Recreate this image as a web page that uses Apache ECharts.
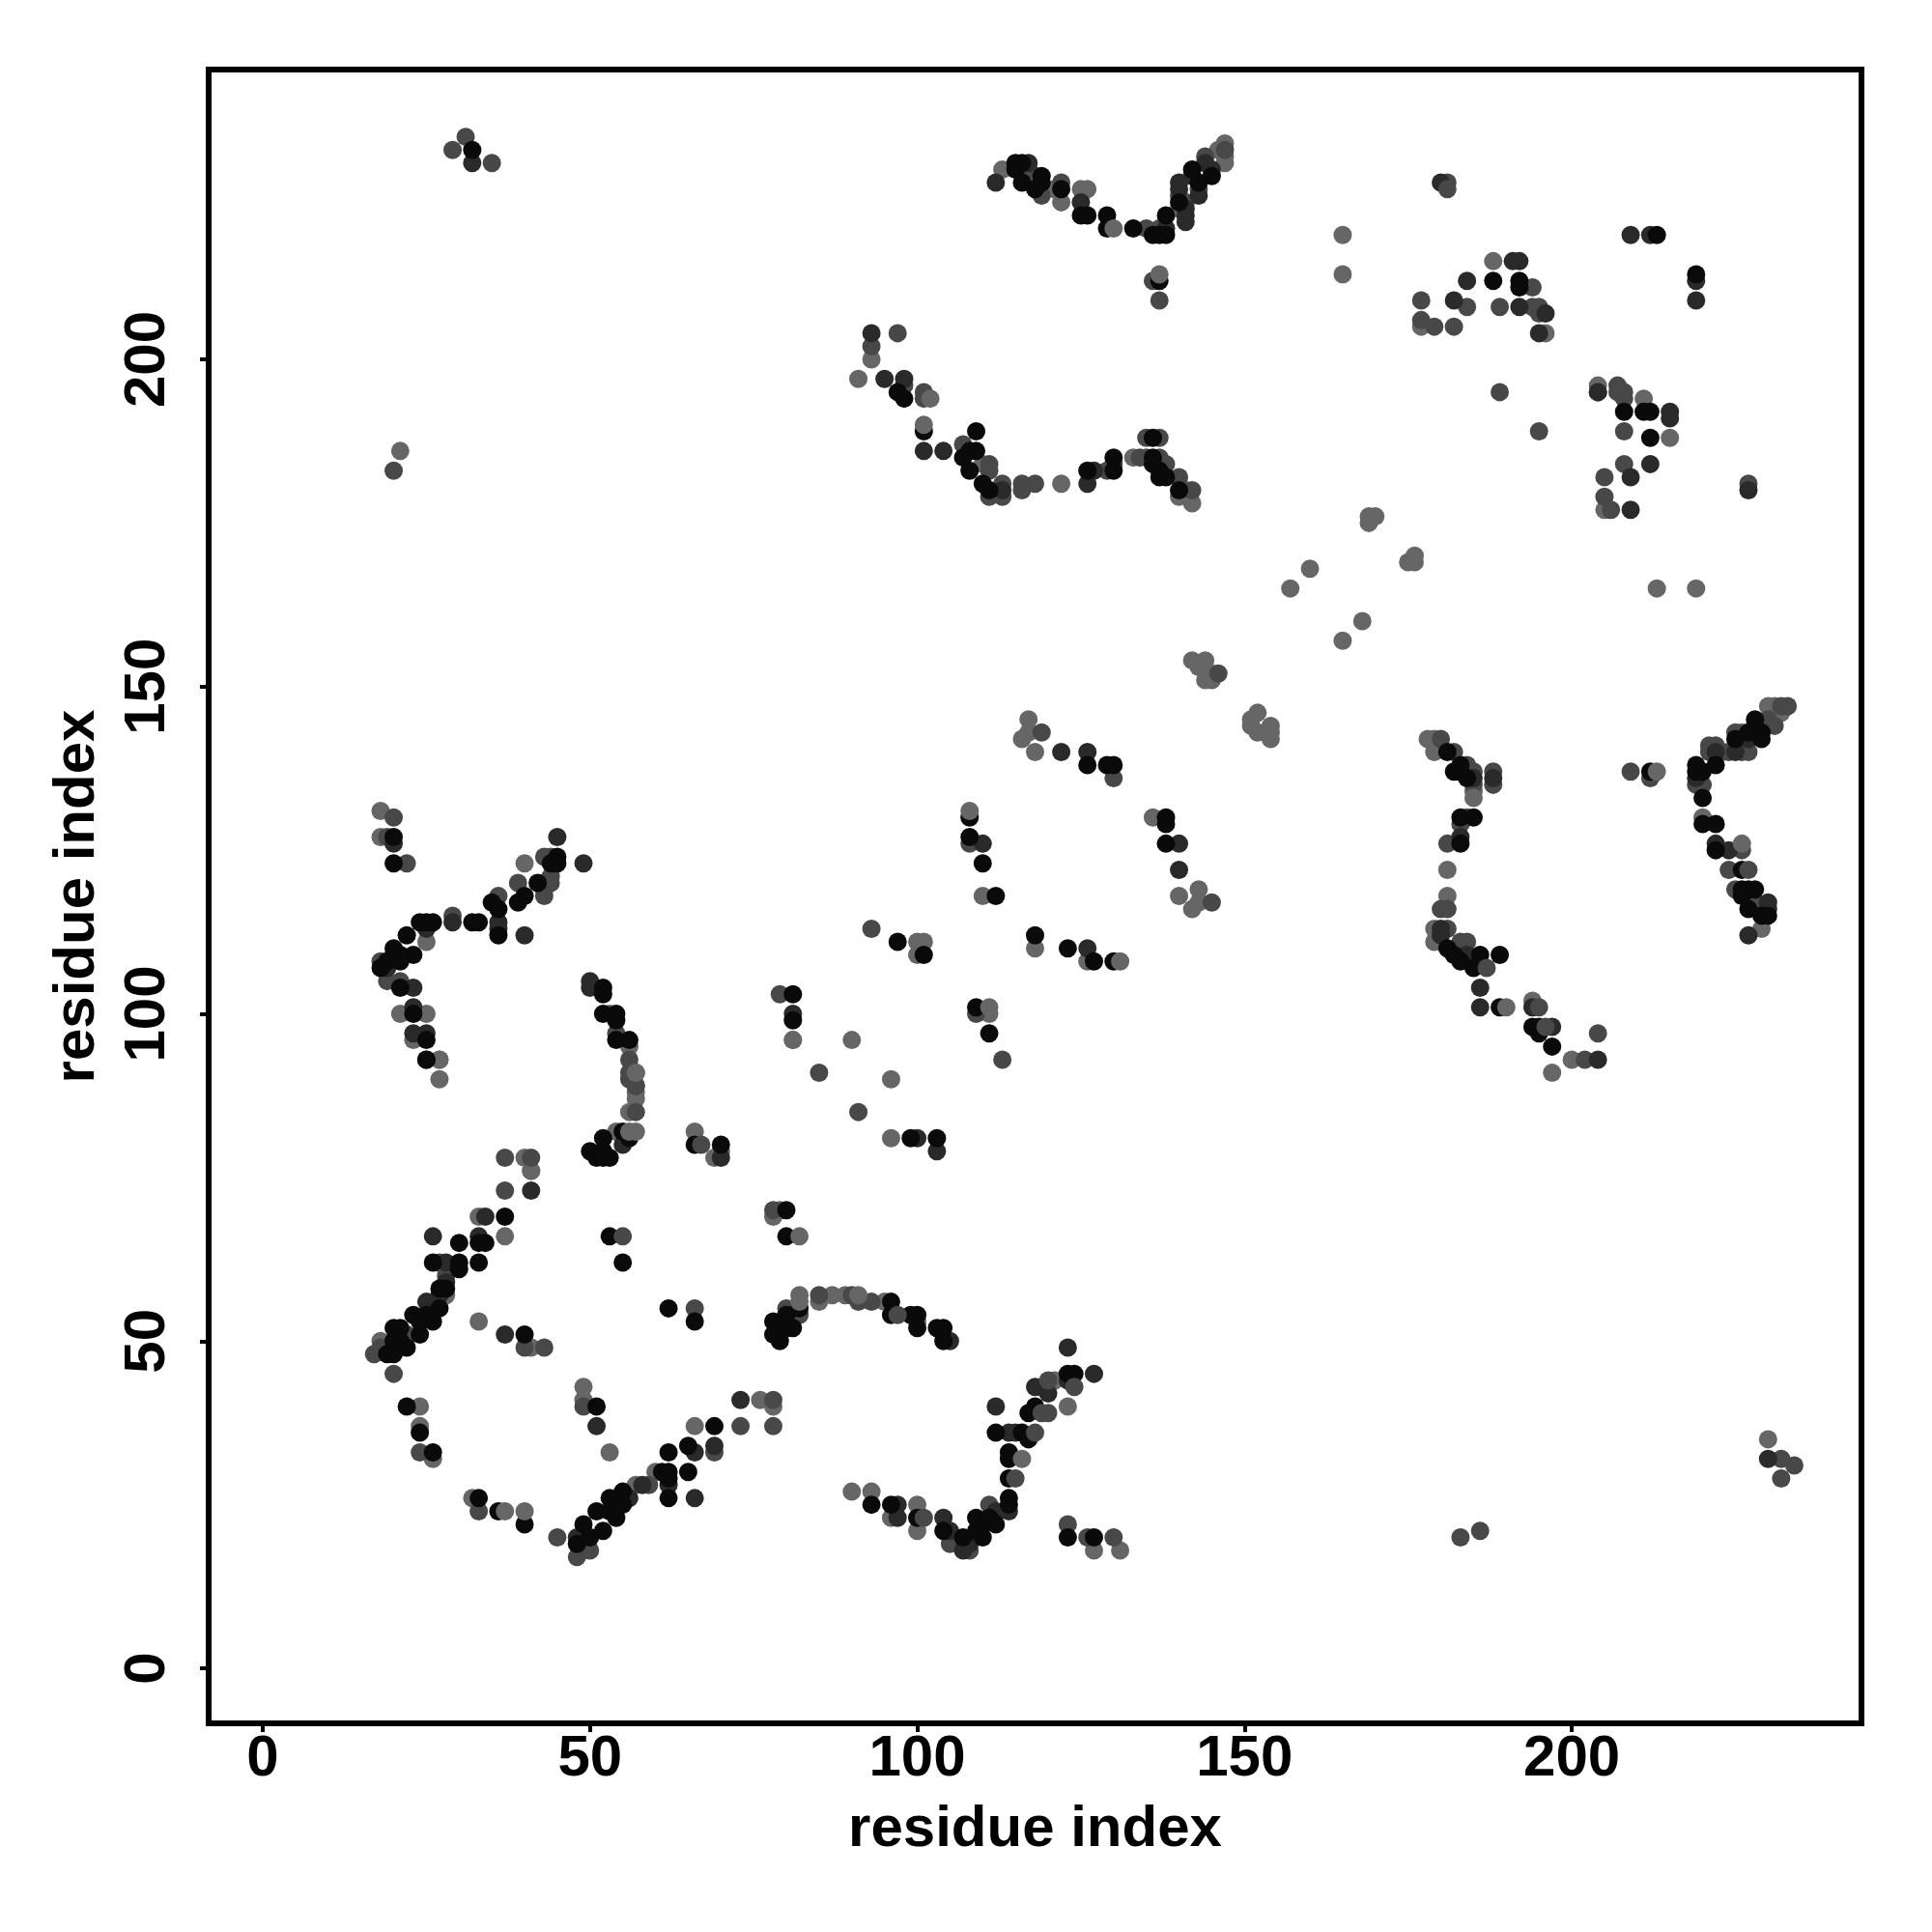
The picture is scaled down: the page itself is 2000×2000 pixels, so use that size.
<!DOCTYPE html>
<html><head><meta charset="utf-8">
<style>html,body{margin:0;padding:0;background:#fff}#c{width:2000px;height:2000px}</style>
<script src="https://cdn.jsdelivr.net/npm/echarts@6/dist/echarts.min.js"></script>
</head><body><div id="c"></div>
<script>
const tickValues=[0,50,100,150,200];
const axisTitle='residue index';
const lightBack=[[27,93],[27,90],[54,82],[40,78],[41,76],[41,76],[37,66],[33,69],[28,61],[28,57],[33,53],[41,49],[18,50],[49,43],[49,41],[24,40],[24,37],[26,32],[53,33],[66,37],[60,30],[57,28],[49,18],[32,26],[66,82],[69,78],[70,79],[96,90],[96,81],[78,69],[79,70],[85,56],[87,57],[89,57],[95,56],[100,53],[76,41],[78,40],[90,27],[93,27],[96,23],[100,25],[100,21],[119,43],[121,44],[123,40],[127,18],[131,18],[18,131],[18,127],[40,123],[43,119],[21,100],[25,100],[23,96],[27,93],[25,111],[53,100],[56,95],[57,88],[57,87],[56,85],[81,96],[90,96],[117,145],[116,142],[117,143],[118,140],[152,146],[151,145],[151,144],[152,143],[154,144],[154,143],[154,142],[110,118],[136,130],[140,118],[143,119],[143,117],[142,116],[100,111],[101,111],[100,109],[118,110],[126,108],[111,100],[178,142],[179,142],[179,140],[185,134],[181,122],[181,118],[179,113],[179,111],[194,102],[197,91],[200,93],[223,140],[226,143],[231,146],[232,146],[230,147],[231,147],[220,130],[229,113],[113,229],[121,226],[122,224],[125,226],[126,226],[146,232],[147,233],[147,231],[147,230],[140,223],[93,200],[91,197],[110,184],[122,181],[133,185],[140,179],[141,180],[142,178],[165,219],[165,213],[188,215],[177,205],[196,204],[204,196],[211,194],[215,188],[205,177],[213,165],[219,165],[169,175],[170,176],[169,176],[175,169],[176,170],[176,169],[157,165],[160,168],[165,157],[168,160],[142,154],[144,154],[143,153],[144,151],[145,152],[145,151],[230,35],[21,186]];
const midBack=[[37,78],[41,78],[37,73],[17,48],[18,49],[22,51],[27,62],[28,60],[20,45],[24,33],[49,40],[33,24],[45,20],[48,17],[50,18],[59,28],[56,91],[57,89],[57,85],[66,55],[69,33],[40,49],[43,49],[78,70],[80,55],[82,54],[85,57],[90,57],[91,56],[93,56],[78,41],[73,37],[78,37],[105,19],[111,25],[108,18],[85,91],[91,85],[113,93],[123,22],[126,20],[130,20],[20,130],[19,127],[22,123],[43,124],[44,124],[39,120],[44,121],[44,120],[43,120],[43,118],[36,118],[29,115],[18,108],[19,105],[21,105],[56,93],[56,90],[57,89],[54,97],[57,91],[79,103],[119,143],[130,136],[108,126],[145,117],[93,113],[109,100],[180,142],[182,140],[184,138],[185,137],[185,135],[188,137],[188,135],[184,130],[183,129],[181,126],[180,116],[181,116],[181,113],[183,111],[184,111],[221,141],[222,141],[221,140],[224,140],[225,143],[226,140],[227,140],[230,145],[231,144],[232,147],[233,147],[220,135],[219,135],[209,137],[212,136],[224,122],[225,119],[228,117],[226,125],[204,97],[202,93],[117,229],[118,228],[119,225],[122,227],[129,183],[135,220],[137,220],[140,225],[141,224],[143,226],[144,231],[147,232],[136,212],[137,209],[97,204],[93,202],[98,196],[101,195],[101,194],[107,187],[111,184],[111,183],[113,181],[111,179],[113,179],[116,181],[116,180],[118,181],[130,184],[135,188],[137,188],[134,185],[135,185],[137,185],[138,184],[140,182],[142,180],[181,227],[177,209],[184,208],[189,208],[194,211],[194,208],[195,208],[195,207],[177,206],[179,205],[182,205],[189,195],[195,189],[204,195],[207,196],[207,195],[208,195],[208,194],[208,189],[208,184],[205,182],[205,179],[206,177],[227,181],[29,232],[31,234],[35,230],[20,183],[146,152],[232,32],[232,29],[234,31],[183,20],[186,21]];
const darkPts=[[26,66],[33,66],[34,69],[41,73],[28,62],[28,59],[27,57],[25,56],[48,20],[56,26],[55,80],[37,51],[51,37],[66,33],[66,26],[69,34],[62,28],[58,28],[70,78],[97,25],[97,23],[73,41],[100,81],[103,79],[104,23],[105,21],[107,18],[108,19],[112,24],[114,24],[114,36],[115,36],[112,40],[118,43],[120,42],[123,44],[123,49],[127,45],[105,50],[20,126],[45,127],[49,123],[36,114],[36,113],[40,112],[29,114],[25,113],[19,107],[23,104],[23,101],[23,97],[25,97],[50,105],[50,104],[81,100],[122,140],[126,140],[110,126],[140,126],[140,122],[126,110],[185,136],[188,136],[183,127],[180,113],[180,112],[184,109],[186,104],[186,101],[194,101],[197,98],[204,93],[222,140],[225,140],[227,142],[228,144],[219,136],[222,126],[224,125],[230,117],[230,116],[227,112],[112,227],[117,230],[125,224],[138,220],[140,227],[140,226],[141,223],[141,222],[141,221],[142,228],[143,225],[144,230],[145,229],[93,204],[95,197],[98,197],[101,186],[104,186],[113,180],[127,183],[126,181],[180,227],[191,215],[192,215],[184,212],[182,209],[192,208],[196,207],[195,204],[209,219],[212,219],[219,212],[219,209],[215,192],[215,191],[212,184],[209,182],[209,177],[227,180],[204,195],[32,230],[230,32]];
const blackPts=[[25,93],[56,81],[55,82],[52,81],[52,79],[50,79],[51,78],[52,78],[53,78],[66,80],[70,80],[37,69],[30,65],[34,65],[33,65],[26,62],[30,62],[33,62],[30,61],[27,58],[28,58],[27,55],[25,54],[23,54],[24,53],[26,53],[20,52],[21,52],[24,51],[22,49],[20,50],[21,50],[19,48],[20,48],[40,51],[53,66],[55,62],[62,55],[66,53],[22,40],[24,36],[26,33],[51,40],[62,33],[65,34],[69,37],[65,30],[61,30],[62,30],[62,29],[62,26],[55,27],[53,26],[54,23],[51,24],[52,21],[49,22],[50,20],[53,24],[55,25],[48,19],[33,26],[36,24],[40,22],[99,81],[103,81],[80,70],[80,66],[78,53],[78,51],[79,50],[80,52],[81,52],[80,54],[82,55],[96,56],[96,54],[99,54],[100,54],[100,52],[103,52],[104,52],[104,50],[93,25],[96,25],[100,23],[104,21],[107,20],[109,23],[109,21],[110,20],[110,22],[112,22],[111,23],[114,26],[114,25],[114,29],[114,33],[114,32],[112,36],[116,36],[117,35],[117,39],[118,40],[123,45],[124,45],[123,20],[127,20],[20,127],[20,123],[45,124],[44,123],[45,123],[42,120],[40,118],[39,117],[35,117],[36,116],[36,112],[32,114],[33,114],[24,114],[25,114],[26,114],[22,112],[20,110],[23,109],[21,109],[20,109],[21,108],[18,107],[19,108],[21,104],[23,100],[25,96],[25,93],[52,104],[52,103],[52,100],[54,100],[54,99],[54,96],[56,96],[81,103],[81,99],[126,138],[129,138],[130,138],[108,130],[108,127],[110,123],[112,118],[138,130],[138,129],[138,126],[97,111],[101,109],[118,112],[123,110],[127,108],[130,108],[109,101],[111,97],[181,140],[182,137],[183,138],[183,137],[184,136],[183,130],[185,130],[183,126],[181,110],[183,108],[182,109],[186,109],[189,109],[185,107],[189,101],[194,98],[195,97],[195,98],[197,95],[222,138],[225,142],[227,143],[229,142],[228,145],[229,143],[219,138],[219,137],[220,137],[220,133],[220,129],[222,129],[222,125],[226,122],[226,119],[227,119],[228,119],[226,118],[227,116],[229,115],[230,115],[212,137],[115,230],[116,230],[115,229],[116,227],[119,228],[119,227],[118,226],[122,226],[125,222],[126,222],[129,222],[129,220],[133,220],[136,219],[137,219],[138,219],[138,222],[140,224],[142,229],[143,227],[145,228],[137,212],[97,195],[98,194],[101,189],[109,189],[107,185],[108,186],[109,186],[108,183],[110,181],[111,180],[126,183],[130,185],[130,183],[136,188],[136,185],[136,184],[137,183],[137,182],[138,182],[140,180],[188,212],[192,212],[192,211],[213,219],[219,213],[208,192],[211,192],[212,192],[212,188],[32,232]];
const midFront=[[55,66],[67,80],[97,54],[101,23],[115,29],[118,36],[119,39],[120,39],[120,44],[124,43],[187,107],[195,101],[196,98],[227,122],[181,226]];
const lightFront=[[57,82],[56,82],[57,91],[37,24],[40,24],[82,66],[82,57],[82,56],[91,57],[116,32],[108,131],[81,96],[131,108],[111,101],[190,101],[185,133],[226,126],[213,137],[130,220],[137,213],[101,190],[102,194]];
const series=[[lightBack,'#666666'],[midBack,'#484848'],[darkPts,'#2a2a2a'],[blackPts,'#0a0a0a'],[midFront,'#484848'],[lightFront,'#666666']].map(([data,color])=>({
  type:'scatter',data,symbol:'circle',symbolSize:19,itemStyle:{color,opacity:1},silent:true,animation:false
}));
function axis(extra){
  return Object.assign({
    type:'value',name:axisTitle,nameLocation:'middle',
    nameTextStyle:{fontFamily:'Liberation Sans',fontWeight:'bold',fontSize:60,color:'#000'},
    axisLine:{show:false,onZero:false},splitLine:{show:false},
    axisTick:{show:true,length:9,customValues:tickValues,lineStyle:{color:'#000',width:4}},
  },extra);
}
const lab={fontFamily:'Liberation Sans',fontWeight:'bold',fontSize:60,color:'#000',customValues:tickValues,formatter:v=>String(v),hideOverlap:false,showMinLabel:true,showMaxLabel:true};
const chart=echarts.init(document.getElementById('c'),null,{renderer:'canvas'});
chart.setOption({
  animation:false,backgroundColor:'#fff',
  grid:{left:216,right:73,top:72,bottom:216,show:true,borderColor:'#000',borderWidth:6,backgroundColor:'#fff'},
  xAxis:axis({min:-8.27,max:244.27,nameGap:80,axisLabel:Object.assign({margin:7},lab)}),
  yAxis:axis({min:-8.41,max:244.28,nameGap:106,axisLabel:Object.assign({margin:33,rotate:90},lab)}),
  series
});
</script></body></html>
